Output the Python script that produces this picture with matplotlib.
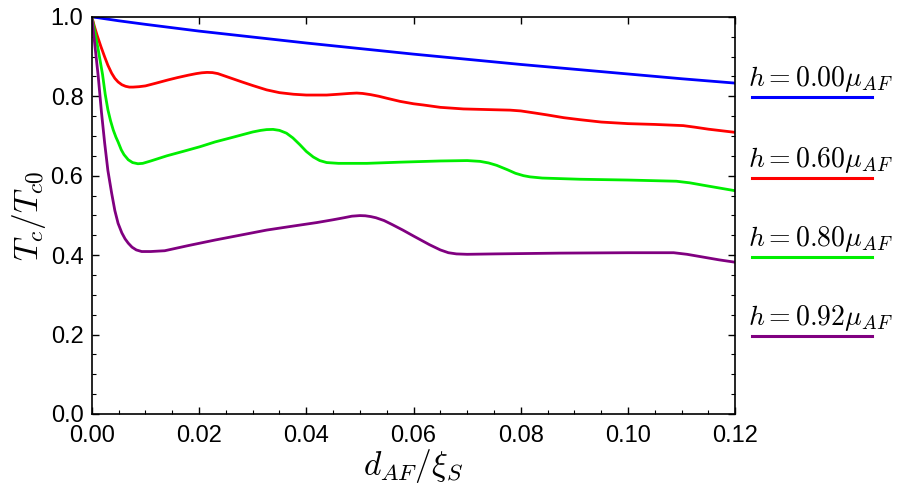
import numpy as np
import matplotlib
matplotlib.use("Agg")
import matplotlib.pyplot as plt
from matplotlib.lines import Line2D
from matplotlib.ticker import MultipleLocator, FormatStrFormatter

plt.rcParams['font.family'] = ['Liberation Sans', 'DejaVu Sans']
plt.rcParams['mathtext.fontset'] = 'cm'

# values
h_labels = [r'$h = 0.00\mu_{AF}$', r'$h = 0.60\mu_{AF}$',
            r'$h = 0.80\mu_{AF}$', r'$h = 0.92\mu_{AF}$']
colors = ['#0000ff', '#ff0000', '#00ee00', '#800080']

x_blue = [0, 0.005, 0.01, 0.02, 0.03, 0.04, 0.05, 0.06, 0.07, 0.08, 0.09, 0.10, 0.11, 0.12]
y_blue = [1.0, 0.990, 0.981, 0.964, 0.949, 0.934, 0.920, 0.906, 0.893, 0.880, 0.868, 0.856, 0.844, 0.833]

x_red = [0, 0.0005, 0.001, 0.0017, 0.0024, 0.003, 0.0037, 0.0043, 0.0049, 0.0056, 0.0063,
         0.007, 0.0077, 0.0088, 0.010, 0.012, 0.0142, 0.016, 0.018, 0.0195, 0.0205, 0.0215,
         0.0225, 0.0235, 0.025, 0.0265, 0.028, 0.030, 0.0326, 0.035, 0.0376, 0.040, 0.0438,
         0.046, 0.048, 0.0494, 0.0505, 0.052, 0.0535, 0.055, 0.0575, 0.060, 0.0618, 0.065,
         0.0693, 0.075, 0.078, 0.080, 0.0825, 0.0849, 0.088, 0.091, 0.095, 0.100, 0.105,
         0.1103, 0.1125, 0.115, 0.1175, 0.12]
y_red = [1.0, 0.975, 0.953, 0.925, 0.899, 0.878, 0.858, 0.845, 0.836, 0.829, 0.825,
         0.823, 0.823, 0.824, 0.826, 0.833, 0.841, 0.847, 0.853, 0.857, 0.859, 0.860,
         0.8595, 0.857, 0.850, 0.843, 0.836, 0.827, 0.816, 0.809, 0.805, 0.803, 0.803,
         0.805, 0.807, 0.808, 0.807, 0.804, 0.800, 0.795, 0.787, 0.781, 0.778, 0.772,
         0.768, 0.766, 0.765, 0.763, 0.758, 0.753, 0.746, 0.741, 0.735, 0.731, 0.729,
         0.726, 0.722, 0.717, 0.713, 0.709]

x_green = [0, 0.0006, 0.0012, 0.002, 0.0025, 0.003, 0.0035, 0.004, 0.0045, 0.0049, 0.0055,
           0.006, 0.0068, 0.0076, 0.0086, 0.0095, 0.011, 0.014, 0.017, 0.0202, 0.023, 0.0264,
           0.030, 0.0315, 0.0326, 0.0338, 0.035, 0.0363, 0.0375, 0.0388, 0.040, 0.0413,
           0.0425, 0.0438, 0.046, 0.0513, 0.0575, 0.065, 0.070, 0.0724, 0.074, 0.0755,
           0.0775, 0.079, 0.0805, 0.0817, 0.084, 0.091, 0.100, 0.109, 0.1115, 0.114,
           0.117, 0.12]
y_green = [1.0, 0.96, 0.917, 0.855, 0.805, 0.766, 0.738, 0.715, 0.697, 0.685, 0.665,
           0.653, 0.640, 0.633, 0.630, 0.631, 0.637, 0.650, 0.661, 0.673, 0.685, 0.697,
           0.710, 0.714, 0.716, 0.7165, 0.714, 0.707, 0.695, 0.678, 0.661, 0.647,
           0.638, 0.633, 0.631, 0.631, 0.634, 0.637, 0.638, 0.636, 0.632, 0.626,
           0.615, 0.606, 0.600, 0.597, 0.594, 0.591, 0.589, 0.586, 0.582, 0.576,
           0.569, 0.562]

x_purple = [0, 0.0006, 0.0012, 0.0018, 0.0024, 0.003, 0.0037, 0.0043, 0.0049, 0.0056,
            0.0062, 0.0068, 0.0075, 0.0083, 0.0093, 0.011, 0.0136, 0.018, 0.023, 0.028,
            0.0326, 0.037, 0.042, 0.045, 0.047, 0.0485, 0.050, 0.051, 0.052, 0.053,
            0.0545, 0.056, 0.058, 0.060, 0.0615, 0.063, 0.065, 0.0665, 0.068, 0.070,
            0.075, 0.0873, 0.100, 0.1085, 0.111, 0.114, 0.117, 0.12]
y_purple = [1.0, 0.925, 0.850, 0.76, 0.682, 0.613, 0.556, 0.512, 0.480, 0.456,
            0.441, 0.430, 0.420, 0.413, 0.409, 0.409, 0.411, 0.424, 0.438, 0.451,
            0.463, 0.472, 0.482, 0.489, 0.494, 0.498, 0.4995, 0.499, 0.497, 0.494,
            0.487, 0.477, 0.463, 0.448, 0.437, 0.426, 0.413, 0.406, 0.403, 0.402,
            0.403, 0.405, 0.406, 0.406, 0.402, 0.395, 0.388, 0.382]

series = [(x_blue, y_blue), (x_red, y_red), (x_green, y_green), (x_purple, y_purple)]

fig = plt.figure(figsize=(9, 4.94), dpi=100)
ax = fig.add_axes([0.102, 0.162, 0.715, 0.804])

for (xs, ys), c in zip(series, colors):
    ax.plot(xs, ys, color=c, lw=2.0, solid_joinstyle='round')

ax.set_xlim(0, 0.12)
ax.set_ylim(0, 1.0)
ax.xaxis.set_major_locator(MultipleLocator(0.02))
ax.xaxis.set_minor_locator(MultipleLocator(0.005))
ax.yaxis.set_major_locator(MultipleLocator(0.2))
ax.yaxis.set_minor_locator(MultipleLocator(0.05))
ax.xaxis.set_major_formatter(FormatStrFormatter('%.2f'))
ax.yaxis.set_major_formatter(FormatStrFormatter('%.1f'))
ax.tick_params(which='both', direction='in', top=True, right=True, labelsize=17)
ax.tick_params(which='major', length=5, width=1)
ax.tick_params(which='minor', length=3, width=0.8)
ax.tick_params(axis='x', which='minor', top=False)
ax.tick_params(axis='x', pad=8)
ax.tick_params(axis='y', pad=6)
for s in ax.spines.values():
    s.set_linewidth(1.2)

ax.set_xlabel(r'$d_{AF}/\xi_S$', fontsize=24, labelpad=0)
ax.set_ylabel(r'$T_c/T_{c0}$', fontsize=24, labelpad=2)

# legend: label text with a line underneath, to the right of the frame
text_y = [86, 167, 246, 325]
for lab, c, ty in zip(h_labels, colors, text_y):
    fig.text(748 / 900, 1 - ty / 494, lab, fontsize=20, ha='left', va='baseline')
    ly = 1 - (ty + 11) / 494
    fig.add_artist(Line2D([752 / 900, 872 / 900], [ly, ly], color=c, lw=2.2,
                          transform=fig.transFigure))

fig.savefig('out.png', dpi=100)
